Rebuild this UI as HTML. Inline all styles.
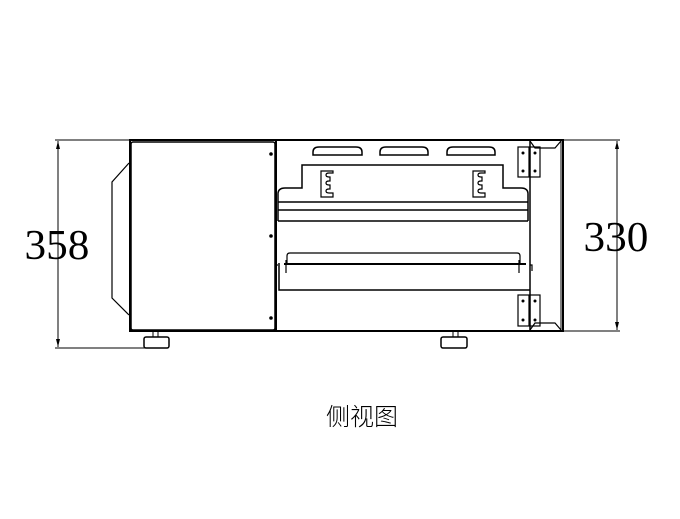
<!DOCTYPE html>
<html><head><meta charset="utf-8"><style>
html,body{margin:0;padding:0;background:#fff;width:680px;height:519px;overflow:hidden}
</style></head><body>
<svg width="680" height="519" viewBox="0 0 680 519" xmlns="http://www.w3.org/2000/svg" fill="none" stroke="#000">
<line x1="55" y1="140" x2="130" y2="140" stroke-width="1"/>
<line x1="55" y1="348" x2="145" y2="348" stroke-width="1"/>
<line x1="58" y1="141" x2="58" y2="347" stroke-width="1"/>
<path d="M58 141 l-2 8 h4z M58 347 l-2 -8 h4z" fill="#000" stroke="none"/>
<line x1="563" y1="140" x2="620" y2="140" stroke-width="1"/>
<line x1="563" y1="331" x2="620" y2="331" stroke-width="1"/>
<line x1="617" y1="141" x2="617" y2="330" stroke-width="1"/>
<path d="M617 141 l-2 8 h4z M617 330 l-2 -8 h4z" fill="#000" stroke="none"/>
<text x="57" y="259" font-family="Liberation Serif, serif" font-size="42" fill="#000" stroke="none" text-anchor="middle" transform="translate(57 0) scale(1.03 1) translate(-57 0)">358</text>
<text x="616" y="251" font-family="Liberation Serif, serif" font-size="42" fill="#000" stroke="none" text-anchor="middle" transform="translate(616 0) scale(1.03 1) translate(-616 0)">330</text>
<text x="362" y="425" font-family="Liberation Sans, Noto Sans CJK SC, sans-serif" font-size="24" fill="#000" stroke="none" text-anchor="middle" font-weight="300">侧视图</text>
<rect x="130" y="140" width="433" height="191" stroke-width="2"/>
<rect x="131" y="142" width="144" height="188" rx="2" stroke-width="1.5"/>
<circle cx="271" cy="154" r="1.8" fill="#000" stroke="none"/>
<circle cx="271" cy="236" r="1.8" fill="#000" stroke="none"/>
<circle cx="271" cy="318" r="1.8" fill="#000" stroke="none"/>
<line x1="276" y1="140" x2="276" y2="331" stroke-width="2"/>
<path d="M129 163 L112 182 L112 298 L129 315" stroke-width="1.2"/>
<path d="M153 331 v6 M158 331 v6" stroke-width="1"/>
<rect x="144" y="337" width="25" height="11" rx="2" stroke-width="1.5"/>
<path d="M453 331 v6 M458 331 v6" stroke-width="1"/>
<rect x="441" y="337" width="26" height="11" rx="2" stroke-width="1.5"/>
<path d="M313 155 v-3 q0-5 6-5 h37 q6 0 6 5 v3 z" stroke-width="1.5"/>
<path d="M380 155 v-3 q0-5 6-5 h36 q6 0 6 5 v3 z" stroke-width="1.5"/>
<path d="M447 155 v-3 q0-5 6-5 h36 q6 0 6 5 v3 z" stroke-width="1.5"/>
<path d="M278 221 V194 q0-6 7-6 h17 v-23 h201 v23 h18 q7 0 7 6 v27" stroke-width="1.5"/>
<line x1="278" y1="202" x2="528" y2="202" stroke-width="1.5"/>
<line x1="278" y1="210" x2="528" y2="210" stroke-width="1.5"/>
<line x1="278" y1="221" x2="528" y2="221" stroke-width="1.5"/>
<path d="M321 171 v26 h12 v-4 h-4 q-3 0-3-2 q0-2 3-2 h1 v-4 h-1 q-3 0-3-2 q0-2 3-2 h1 v-4 h-1 q-3 0-3-2 q0-2 3-2 h4 v-2 z" stroke-width="1.2"/>
<path d="M473 171 v26 h12 v-4 h-4 q-3 0-3-2 q0-2 3-2 h1 v-4 h-1 q-3 0-3-2 q0-2 3-2 h1 v-4 h-1 q-3 0-3-2 q0-2 3-2 h4 v-2 z" stroke-width="1.2"/>
<path d="M287 263 v-7 q0-3 3-3 h227 q3 0 3 3 v7" stroke-width="1.2"/>
<line x1="284" y1="264" x2="526" y2="264" stroke-width="2"/>
<path d="M286 260 v13 M519 260 v13 M278 265 h-2 v12 M530 265 h2 v6" stroke-width="1.2"/>
<path d="M279 263 V290 H530" stroke-width="1.5"/>
<line x1="530" y1="140" x2="530" y2="331" stroke-width="1.5"/>
<line x1="561" y1="140" x2="561" y2="331" stroke-width="1"/>
<path d="M530 141 L535 148 H555 L561 141 M530 330 L535 323 H555 L561 330" stroke-width="1.2"/>
<g stroke-width="1.2">
<rect x="518" y="147" width="22" height="30"/><line x1="529" y1="147" x2="529" y2="177"/>
<rect x="518" y="295" width="22" height="31"/><line x1="529" y1="295" x2="529" y2="326"/>
</g>
<g fill="#000" stroke="none">
<circle cx="523" cy="153" r="1.5"/><circle cx="535" cy="153" r="1.5"/><circle cx="523" cy="171" r="1.5"/><circle cx="535" cy="171" r="1.5"/>
<circle cx="523" cy="301" r="1.5"/><circle cx="535" cy="301" r="1.5"/><circle cx="523" cy="320" r="1.5"/><circle cx="535" cy="320" r="1.5"/>
</g>
</svg>
</body></html>
